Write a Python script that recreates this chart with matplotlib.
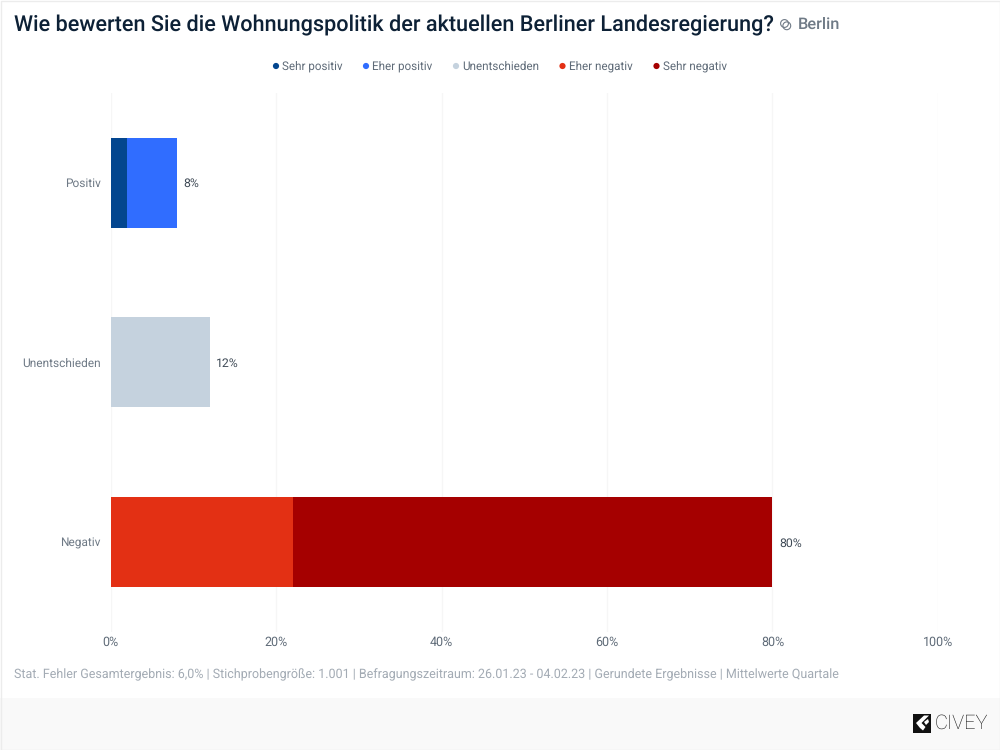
#!/usr/bin/env python3
# -*- coding: utf-8 -*-

import matplotlib
matplotlib.use("Agg")
import matplotlib.pyplot as plt
from matplotlib.patches import Rectangle, Circle, Polygon

plt.rcParams['font.family'] = ['Roboto', 'DejaVu Sans']
plt.rcParams['text.hinting'] = 'no_hinting'

categories = ["Positiv", "Unentschieden", "Negativ"]
series_names = ["Sehr positiv", "Eher positiv", "Unentschieden", "Eher negativ", "Sehr negativ"]
sehr_positiv = [2, 0, 0]
eher_positiv = [6, 0, 0]
unentschieden = [0, 12, 0]
eher_negativ = [0, 0, 22]
sehr_negativ = [0, 0, 58]
totals = [8, 12, 80]
x_ticks = [0, 20, 40, 60, 80, 100]

colors = ['#03468f', '#306dff', '#c5d2de', '#e33014', '#a50000']
W, H = 1000, 750


def fx(px):
    return px / W


def fy(py):
    return 1 - py / H


fig = plt.figure(figsize=(10, 7.5), dpi=100, facecolor='white')

# Hintergrund, Fusszeile und Rahmen in Pixelkoordinaten
bg = fig.add_axes([0, 0, 1, 1], zorder=0)
bg.set_xlim(0, W)
bg.set_ylim(H, 0)
bg.axis('off')
bg.add_patch(Rectangle((0, 698), W, 52, color='#f9f9f9', lw=0))
bg.add_patch(Rectangle((0.5, 0.5), W - 1, H - 1, fill=False, ec='#ececec', lw=1))

# Balken
ax = fig.add_axes([fx(110.6), fy(631.7), (937.9 - 110.6) / W, (631.7 - 93) / H], zorder=1)
ax.patch.set_alpha(0)
series = [sehr_positiv, eher_positiv, unentschieden, eher_negativ, sehr_negativ]
left = [0, 0, 0]
for values, color in zip(series, colors):
    ax.barh(categories, values, left=left, height=0.5, color=color, lw=0, zorder=3)
    left = [a + b for a, b in zip(left, values)]

ax.set_xlim(0, 100)
ax.set_ylim(2.5, -0.5)
ax.set_xticks(x_ticks)
ax.set_xticklabels([f"{t}%" for t in x_ticks], fontsize=9, color='#5f6b78')
ax.tick_params(axis='x', length=0, pad=3.5)
ax.tick_params(axis='y', length=0, pad=7, labelsize=8.6, labelcolor='#6f7a86')
for label in ax.get_yticklabels():
    label.set_verticalalignment('center_baseline')
ax.xaxis.grid(True, color='#f6f6f6', lw=1, zorder=0)
ax.set_axisbelow(True)
for spine in ax.spines.values():
    spine.set_visible(False)

for i, total in enumerate(totals):
    ax.annotate(f"{total}%", (total, i), xytext=(4.7, 0), textcoords='offset points',
                va='center_baseline', ha='left', fontsize=8.8, color='#3f4a56')

# Titel
bg.text(14, 25, "Wie bewerten Sie die Wohnungspolitik der aktuellen Berliner Landesregierung?",
        fontsize=15.62, fontweight='medium', color='#0d2136', va='center', ha='left')
bg.add_patch(Circle((784.5, 23.5), 3.9, fill=False, ec='#6f7a86', lw=0.8))
bg.add_patch(Circle((786.8, 25.8), 3.9, fill=False, ec='#6f7a86', lw=0.8))
bg.text(798, 24.5, "Berlin", fontsize=11.8, fontweight='medium', color='#6f7a86', va='center', ha='left')

# Legende
legend_x = [276, 366, 456, 562.5, 656.5]
for x, name, color in zip(legend_x, series_names, colors):
    bg.add_patch(Circle((x, 66), 3.1, color=color, lw=0))
    bg.text(x + 6.5, 66.3, name, fontsize=8.42, color='#5f6b78', va='center', ha='left')

# Fussnote
bg.text(14, 675, "Stat. Fehler Gesamtergebnis: 6,0% | Stichprobengröße: 1.001 | "
        "Befragungszeitraum: 26.01.23 - 04.02.23 | Gerundete Ergebnisse | Mittelwerte Quartale",
        fontsize=9.0, color='#a3abb4', va='center', ha='left')

# Logo
bg.add_patch(Rectangle((912.5, 713.5), 18.5, 19, color='#111111', lw=0))
bg.add_patch(Polygon([(916, 723), (924, 715.5), (929, 715.5), (921.5, 723), (925.5, 727),
                      (923, 730.5), (920, 728)], color='white', lw=0))
bg.add_patch(Polygon([(924, 722), (928, 719), (929, 722), (926, 725)], color='white', lw=0))
bg.text(935, 723, "CIVEY", fontsize=14.4, fontweight='light', color='#111111', va='center', ha='left')

fig.savefig('out.png', dpi=100)
